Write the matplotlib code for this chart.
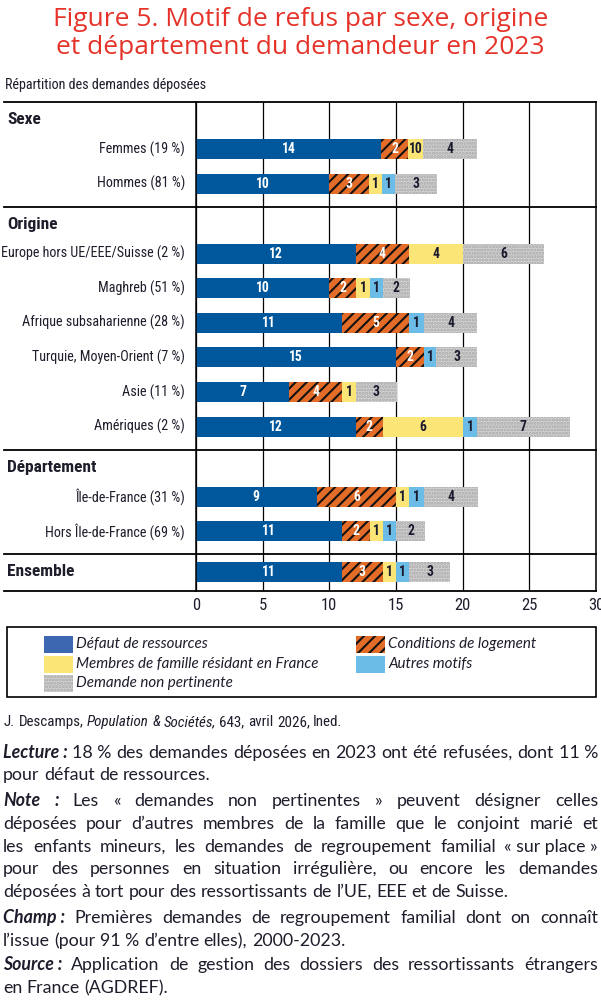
import matplotlib
matplotlib.use('Agg')
import matplotlib.pyplot as plt
from matplotlib import font_manager as fm
from matplotlib.patches import Rectangle
from matplotlib.lines import Line2D

available = {f.name for f in fm.fontManager.ttflist}
def pick(*names):
    for n in names:
        if n in available:
            return n
    return 'DejaVu Sans'

NARROW = pick('Liberation Sans Narrow', 'Roboto Condensed', 'Open Sans Condensed', 'DejaVu Sans')
BODY = pick('Lato', 'Open Sans', 'DejaVu Sans')
TITLE = pick('Open Sans', 'Lato', 'DejaVu Sans')
plt.rcParams['hatch.linewidth'] = 1.5

# ---------------- data ----------------
groups = ["Sexe", "Origine", "Département", "Ensemble"]
group_sizes = [2, 6, 2, 1]
categories = ["Femmes (19 %)", "Hommes (81 %)",
              "Europe hors UE/EEE/Suisse (2 %)", "Maghreb (51 %)",
              "Afrique subsaharienne (28 %)", "Turquie, Moyen-Orient (7 %)",
              "Asie (11 %)", "Amériques (2 %)",
              "Île-de-France (31 %)", "Hors Île-de-France (69 %)",
              "Ensemble"]
series_names = ["Défaut de ressources", "Conditions de logement",
                "Membres de famille résidant en France", "Autres motifs",
                "Demande non pertinente"]
defaut_ressources = [13.9, 10.0, 12.0, 10.0, 10.95, 15.0, 7.0, 12.0, 9.05, 10.95, 10.95]
conditions_logement = [2.0, 3.0, 3.95, 2.0, 5.0, 2.1, 3.95, 2.0, 5.95, 2.1, 3.05]
membres_famille = [1.15, 0.95, 4.1, 1.05, 0.0, 0.0, 1.05, 6.05, 0.95, 0.95, 1.0]
autres_motifs = [0.0, 1.0, 0.0, 0.95, 1.15, 0.9, 0.0, 1.0, 1.15, 1.0, 1.0]
non_pertinente = [4.0, 3.15, 6.05, 2.05, 4.0, 3.1, 3.05, 7.0, 4.05, 2.2, 3.05]

lab_defaut = ["14", "10", "12", "10", "11", "15", "7", "12", "9", "11", "11"]
lab_logement = ["2", "3", "4", "2", "5", "2", "4", "2", "6", "2", "3"]
lab_membres = ["1", "1", "4", "1", "", "", "1", "6", "1", "1", "1"]
lab_autres = ["0", "1", "", "1", "1", "1", "", "1", "1", "1", "1"]
lab_nonpert = ["4", "3", "6", "2", "4", "3", "3", "7", "4", "2", "3"]
xticks = [0, 5, 10, 15, 20, 25, 30]

# ---------------- styles ----------------
series = [defaut_ressources, conditions_logement, membres_famille, autres_motifs, non_pertinente]
labels = [lab_defaut, lab_logement, lab_membres, lab_autres, lab_nonpert]
faces = ['#00579b', '#e36d28', '#fbe576', '#6cbce8', '#d2d2d2']
legend_faces = ['#3d67b0', '#e36d28', '#fbe576', '#6cbce8', '#d2d2d2']
hatch_col = [None, '#111111', None, None, '#a9a9a9']
hatches = [None, '///', None, None, '.....']
txt_col = ['white', 'white', '#1a1a2e', '#1a1a2e', '#1a1a2e']
DARK = '#1d1d2b'

# ---------------- layout (pixel units from top) ----------------
W, H = 601, 1000
TOP = 102
ROW = 34.6
y = TOP
seps = [TOP]
headers = []
rows = []
idx = 0
for g, n in zip(groups, group_sizes):
    if n == 1 and categories[idx] == g:
        y += 17.5
        headers.append((g, y))
        rows.append(y)
        y += 19
    else:
        y += 17.5
        headers.append((g, y))
        y += 29.5
        for k in range(n):
            if k:
                y += ROW
            rows.append(y)
        y += 23
    idx += n
    seps.append(y)
BOTTOM = y

fig = plt.figure(figsize=(W / 100, H / 100), dpi=100)
fig.patch.set_facecolor('white')
X0, X1 = 196, 596
ax = fig.add_axes([X0 / W, 1 - BOTTOM / H, (X1 - X0) / W, (BOTTOM - TOP) / H])
ax.set_xlim(0, 30)
ax.set_ylim(BOTTOM, TOP)
ax.set_xticks(xticks)
ax.set_yticks([])
ax.grid(axis='x', color='black', lw=0.9)
ax.set_axisbelow(True)
for s in ['top', 'bottom']:
    ax.spines[s].set_visible(False)
for s in ['left', 'right']:
    ax.spines[s].set_linewidth(1.1)
ax.tick_params(axis='x', length=0, pad=5, labelsize=12, labelcolor=DARK)
for t in ax.get_xticklabels():
    t.set_fontfamily(NARROW)

lefts = [0.0] * len(categories)
for si, vals in enumerate(series):
    kw = dict(color=faces[si], lw=0)
    if hatches[si]:
        kw.update(hatch=hatches[si], edgecolor=hatch_col[si])
    ax.barh(rows, vals, left=lefts, height=20, zorder=2, **kw)
    for i, v in enumerate(vals):
        lab = labels[si][i]
        if v > 0 and lab:
            if si + 1 < len(series) and series[si + 1][i] == 0 and labels[si + 1][i]:
                lab = lab + labels[si + 1][i]
            ax.text(lefts[i] + v / 2, rows[i], lab, ha='center', va='center',
                    fontsize=9.8, fontweight='bold', color=txt_col[si],
                    family=NARROW, zorder=3)
    lefts = [a + b for a, b in zip(lefts, vals)]

# ---------------- overlay in pixel coordinates ----------------
ov = fig.add_axes([0, 0, 1, 1], zorder=5)
ov.set_xlim(0, W)
ov.set_ylim(H, 0)
ov.axis('off')

for sy in seps:
    ov.add_line(Line2D([4, X1], [sy, sy], color='black', lw=1.3))

ov.text(W / 2, 20, "Figure 5. Motif de refus par sexe, origine", ha='center', va='center',
        fontsize=19, color='#e5332a', family=TITLE, fontweight='medium')
ov.text(W / 2, 48, "et département du demandeur en 2023", ha='center', va='center',
        fontsize=19, color='#e5332a', family=TITLE, fontweight='medium')
ov.text(5, 85, "Répartition des demandes déposées", ha='left', va='center',
        fontsize=10.2, color=DARK, family=NARROW)

for g, gy in headers:
    ov.text(7, gy, g, ha='left', va='center', fontsize=12.5, fontweight='bold',
            color=DARK, family=NARROW)
for c, ry in zip(categories, rows):
    if c in groups:
        continue
    ov.text(185, ry, c, ha='right', va='center', fontsize=10.2, color=DARK, family=NARROW)

# legend
ov.add_patch(Rectangle((7, 627), 589, 70, fill=False, edgecolor='black', lw=1.2))
leg_pos = [(44, 644), (356, 644), (44, 664), (356, 664), (44, 683)]
for si, (lx, ly) in enumerate(leg_pos):
    kw = dict(facecolor=legend_faces[si], lw=0)
    if hatches[si]:
        kw.update(hatch=hatches[si], edgecolor=hatch_col[si])
    ov.add_patch(Rectangle((lx, ly - 8.5), 29, 17, **kw))
    ov.text(lx + 32, ly, series_names[si], ha='left', va='center', fontsize=10.9,
            style='italic', color=DARK, family=BODY)

# footer
renderer = fig.canvas.get_renderer()

def width_of(t):
    return t.get_window_extent(renderer).width

def make_arts(yb, tokens, size, family):
    arts = []
    for txt, sty in tokens:
        kw = dict(fontsize=size, family=family, color=DARK, va='baseline', ha='left')
        if 'i' in sty:
            kw['style'] = 'italic'
        if 'b' in sty:
            kw['fontweight'] = 'bold'
        arts.append(ov.text(0, yb, txt, **kw))
    return arts

def space_width(size, family):
    p1 = ov.text(0, 0, "a a", fontsize=size, family=family)
    p2 = ov.text(0, 0, "aa", fontsize=size, family=family)
    s = width_of(p1) - width_of(p2)
    p1.remove(); p2.remove()
    return s

def natural_width(tokens, size, family):
    arts = make_arts(0, tokens, size, family)
    w = sum(width_of(a) for a in arts) + space_width(size, family) * (len(arts) - 1)
    for a in arts:
        a.remove()
    return w

def draw_line(yb, tokens, justify, size, family=BODY, x0=3, x1=598):
    arts = make_arts(yb, tokens, size, family)
    ws = [width_of(a) for a in arts]
    space = space_width(size, family)
    if justify and len(arts) > 1:
        gap = (x1 - x0 - sum(ws)) / (len(arts) - 1)
    else:
        gap = space
    x = x0
    for a, w in zip(arts, ws):
        a.set_x(x)
        x += w + gap

def toks(s, sty=''):
    return [(w, sty) for w in s.split(' ')]

NB = '\u00a0'
lines = [
    (758, [("Lecture" + NB + ":", 'bi')] + toks(f"18{NB}% des demandes déposées en 2023 ont été refusées, dont 11{NB}%"), True),
    (780, toks("pour défaut de ressources."), False),
    (806, [("Note", 'bi'), (":", 'bi')] + toks("Les « demandes non pertinentes » peuvent désigner celles"), True),
    (829, toks("déposées pour d’autres membres de la famille que le conjoint marié et"), True),
    (852, toks(f"les enfants mineurs, les demandes de regroupement familial «{NB}sur{NB}place{NB}»"), True),
    (874, toks("pour des personnes en situation irrégulière, ou encore les demandes"), True),
    (897, toks("déposées à tort pour des ressortissants de l’UE, EEE et de Suisse."), False),
    (923, [("Champ" + NB + ":", 'bi')] + toks("Premières demandes de regroupement familial dont on connaît"), True),
    (946, toks(f"l’issue (pour 91{NB}% d’entre elles), 2000-2023."), False),
    (970, [("Source" + NB + ":", 'bi')] + toks("Application de gestion des dossiers des ressortissants étrangers"), True),
    (993, toks("en France (AGDREF)."), False),
]
# pick a body size such that the longest justified line just fits with normal spacing
base = 11
ratio = min((598 - 3) / natural_width(t, base, BODY) for _, t, j in lines if j)
body_size = base * ratio * 0.995

draw_line(726, [("J.", ''), ("Descamps,", ''), ("Population", 'i'), ("&", 'i'), ("Sociétés,", 'i')] +
          toks("643, avril 2026, Ined."), False, size=10.8, family=NARROW, x0=4)
for yb, t, j in lines:
    draw_line(yb, t, j, body_size)

fig.savefig('out.png', dpi=100, facecolor='white')
